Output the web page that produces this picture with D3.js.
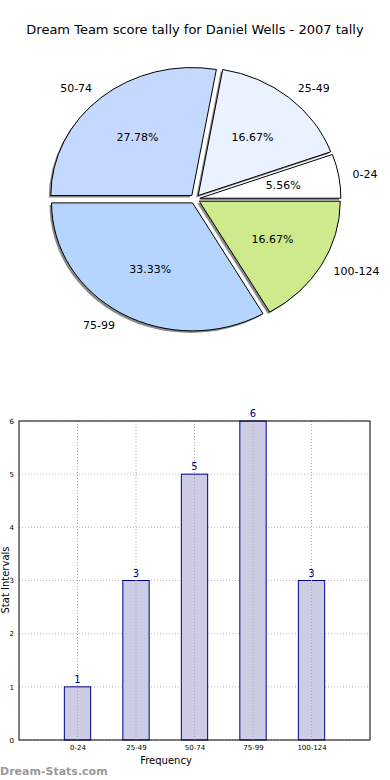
<!DOCTYPE html>
<html lang="en">
  <head>
    <meta charset="utf-8">
    <title>Dream Team score tally</title>
    <script src="https://d3js.org/d3.v7.min.js"></script>
    <style>
      body { margin: 0; background: #fff; }
      text { font-family: "DejaVu Sans", sans-serif; }
    </style>
  </head>
  <body>
    <div id="chart"></div>
    <script type="text/javascript">
      // data
      const categories = ["0-24", "25-49", "50-74", "75-99", "100-124"];
      const counts = [1, 3, 5, 6, 3];
      const sliceColors = ["#ffffff", "#eaf1ff", "#c5d9ff", "#b5d5ff", "#cfea8c"];
      const yTicks = [0, 1, 2, 3, 4, 5, 6];

      const width = 390, height = 780;
      var svg = d3.select("#chart").append("svg")
        .attr("width", width)
        .attr("height", height);

      // title
      svg.append("text")
        .attr("x", 195)
        .attr("y", 34)
        .attr("text-anchor", "middle")
        .style("font-size", "13px")
        .text("Dream Team score tally for Daniel Wells - 2007 tally");

      // ---- pie (slightly squashed, like the original) ----
      const cx = 195, cy = 199, rx = 141, ry = 128;
      const explode = 0.035;
      const total = d3.sum(counts);

      // start at 3 o'clock and go counter-clockwise
      let pie = d3.pie().sort(null).startAngle(Math.PI / 2).endAngle(Math.PI / 2 - 2 * Math.PI);
      let slices = pie(counts);
      let arc = d3.arc().innerRadius(0).outerRadius(1);

      // unit circle -> screen
      let px = d3.scaleLinear().domain([-1, 1]).range([cx - rx, cx + rx]);
      let py = d3.scaleLinear().domain([-1, 1]).range([cy - ry, cy + ry]);

      let midOf = (d) => (d.startAngle + d.endAngle) / 2;
      // point at distance r along the slice middle, with the explode offset
      let at = function(d, r) {
        let a = midOf(d);
        return [px((explode + r) * Math.sin(a)), py(-(explode + r) * Math.cos(a))];
      };

      let wedgeTransform = function(d, dx, dy) {
        let a = midOf(d);
        let ox = px(explode * Math.sin(a)) + dx;
        let oy = py(-explode * Math.cos(a)) + dy;
        return "translate(" + ox + "," + oy + ") scale(" + rx + "," + ry + ")";
      };

      let pieG = svg.append("g");

      // shadows first
      pieG.selectAll(".shadow")
        .data(slices)
        .enter()
        .append("path")
          .attr("class", "shadow")
          .attr("d", arc)
          .attr("transform", (d) => wedgeTransform(d, -2, 2))
          .attr("fill", "#8a8a8a")
          .attr("stroke", "none");

      pieG.selectAll(".wedge")
        .data(slices)
        .enter()
        .append("path")
          .attr("class", "wedge")
          .attr("d", arc)
          .attr("transform", (d) => wedgeTransform(d, 0, 0))
          .attr("fill", (d, i) => sliceColors[i])
          .attr("stroke", "#000")
          .attr("stroke-width", 1)
          .attr("vector-effect", "non-scaling-stroke");

      // category labels outside
      pieG.selectAll(".lbl")
        .data(slices)
        .enter()
        .append("text")
          .attr("x", (d) => at(d, 1.1)[0])
          .attr("y", (d) => at(d, 1.1)[1])
          .attr("dy", "0.35em")
          .attr("text-anchor", (d) => Math.sin(midOf(d)) >= 0 ? "start" : "end")
          .style("font-size", "11px")
          .text((d, i) => categories[i]);

      // percentages inside
      pieG.selectAll(".pct")
        .data(slices)
        .enter()
        .append("text")
          .attr("x", (d) => at(d, 0.6)[0])
          .attr("y", (d) => at(d, 0.6)[1])
          .attr("dy", "0.35em")
          .attr("text-anchor", "middle")
          .style("font-size", "11px")
          .text((d) => (d.data / total * 100).toFixed(2) + "%");

      // ---- bar chart ----
      const plotL = 19, plotR = 370, plotT = 421, plotB = 740;
      let xScale = d3.scaleLinear().domain([0, 6]).range([plotL, plotR]);
      let yScale = d3.scaleLinear().domain([0, 6]).range([plotB, plotT]);
      const barW = 0.45;

      let barG = svg.append("g");

      // grid
      barG.selectAll(".hgrid")
        .data(yTicks)
        .enter()
        .append("line")
          .attr("x1", plotL).attr("x2", plotR)
          .attr("y1", (d) => yScale(d)).attr("y2", (d) => yScale(d))
          .attr("stroke", "#bbb")
          .attr("stroke-dasharray", "1,2");

      // bars
      barG.selectAll(".bar")
        .data(counts)
        .enter()
        .append("rect")
          .attr("x", (d, i) => xScale(i + 1 - barW / 2))
          .attr("width", xScale(barW) - xScale(0))
          .attr("y", (d) => yScale(d))
          .attr("height", (d) => yScale(0) - yScale(d))
          .attr("fill", "#ccccE4")
          .attr("stroke", "#00008b")
          .attr("stroke-width", 1);

      // vertical grid over bars
      barG.selectAll(".vgrid")
        .data(categories)
        .enter()
        .append("line")
          .attr("x1", (d, i) => xScale(i + 1)).attr("x2", (d, i) => xScale(i + 1))
          .attr("y1", plotT).attr("y2", plotB)
          .attr("stroke", "#aaa")
          .attr("stroke-dasharray", "1,2");

      // value labels
      barG.selectAll(".val")
        .data(counts)
        .enter()
        .append("text")
          .attr("x", (d, i) => xScale(i + 1))
          .attr("y", (d) => yScale(d) - 4)
          .attr("text-anchor", "middle")
          .attr("fill", "#00008b")
          .style("font-size", "10px")
          .text((d) => d);

      // frame
      barG.append("rect")
        .attr("x", plotL).attr("y", plotT)
        .attr("width", plotR - plotL).attr("height", plotB - plotT)
        .attr("fill", "none")
        .attr("stroke", "#000")
        .attr("stroke-width", 1);

      // axes
      let xAxis = d3.axisBottom(xScale)
        .tickValues([1, 2, 3, 4, 5])
        .tickFormat((d) => categories[d - 1])
        .tickSize(0)
        .tickPadding(5);
      barG.append("g")
        .attr("transform", "translate(0," + plotB + ")")
        .call(xAxis)
        .call((g) => g.select(".domain").remove())
        .selectAll("text")
          .style("font-size", "7px")
          .style("font-family", "DejaVu Sans, sans-serif");

      let yAxis = d3.axisLeft(yScale)
        .tickValues(yTicks)
        .tickFormat(d3.format("d"))
        .tickSize(0)
        .tickPadding(5);
      barG.append("g")
        .attr("transform", "translate(" + plotL + ",0)")
        .call(yAxis)
        .call((g) => g.select(".domain").remove())
        .selectAll("text")
          .style("font-size", "7px")
          .style("font-family", "DejaVu Sans, sans-serif");

      // axis labels
      svg.append("text")
        .attr("x", 166)
        .attr("y", 764)
        .attr("text-anchor", "middle")
        .style("font-size", "10px")
        .text("Frequency");

      svg.append("text")
        .attr("transform", "translate(9, 580) rotate(-90)")
        .attr("text-anchor", "middle")
        .style("font-size", "10px")
        .text("Stat Intervals");

      // watermark
      svg.append("text")
        .attr("x", 0)
        .attr("y", 775)
        .attr("fill", "#999")
        .style("font-size", "11px")
        .style("font-weight", "bold")
        .text("Dream-Stats.com");
    </script>
  </body>
</html>
